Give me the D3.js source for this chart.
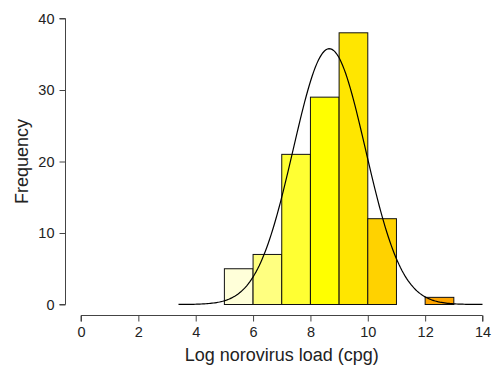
<!DOCTYPE html>
<html>
<head>
<meta charset="utf-8">
<script src="https://d3js.org/d3.v7.min.js"></script>
<style>
  html, body { margin: 0; padding: 0; background: #fff; }
  text { font-family: "Liberation Sans", Arial, sans-serif; fill: #222; }
</style>
</head>
<body>
<div id="chart"></div>
<script>
// histogram bins (log cpg) and counts
const binStarts = [5, 6, 7, 8, 9, 10, 11, 12];
const counts = [5, 7, 21, 29, 38, 12, 0, 1];
const binColors = ["#FFFFD9", "#FFFF80", "#FFFF33", "#FFFF00", "#FFE600", "#FFD200", "#FFBB00", "#FFA500"];
const xTicks = [0, 2, 4, 6, 8, 10, 12, 14];
const yTicks = [0, 10, 20, 30, 40];

// fitted normal curve
const fitMean = 8.66;
const fitSd = 1.26;
const curveFrom = 3.4, curveTo = 14;

const width = 493, height = 367;
const svg = d3.select("#chart").append("svg")
    .attr("width", width)
    .attr("height", height);

const x = d3.scaleLinear().domain([0, 14]).range([81, 482.5]);
const y = d3.scaleLinear().domain([0, 40]).range([304.5, 18.5]);

// bars
const n = d3.sum(counts);
svg.append("g").selectAll("rect")
    .data(binStarts.map((b, i) => ({ b: b, c: counts[i], col: binColors[i] })).filter(d => d.c > 0))
    .enter().append("rect")
    .attr("x", d => x(d.b))
    .attr("width", d => x(d.b + 1) - x(d.b))
    .attr("y", d => y(d.c))
    .attr("height", d => y(0) - y(d.c))
    .attr("fill", d => d.col)
    .attr("stroke", "#111")
    .attr("stroke-width", 1);

// normal curve scaled to counts (bin width 1)
const pts = d3.range(0, 201).map(i => {
    const xv = curveFrom + (curveTo - curveFrom) * i / 200;
    const dens = Math.exp(-0.5 * Math.pow((xv - fitMean) / fitSd, 2)) / (fitSd * Math.sqrt(2 * Math.PI));
    return [xv, n * dens];
});
svg.append("path")
    .attr("d", d3.line().x(d => x(d[0])).y(d => y(d[1]))(pts))
    .attr("fill", "none")
    .attr("stroke", "#000")
    .attr("stroke-width", 1.2);

// x axis
const xAxis = svg.append("g")
    .attr("transform", "translate(0,315.5)")
    .call(d3.axisBottom(x).tickValues(xTicks).tickSize(6).tickPadding(5).tickFormat(d3.format("d")));
// y axis
const yAxis = svg.append("g")
    .attr("transform", "translate(65.5,0)")
    .call(d3.axisLeft(y).tickValues(yTicks).tickSize(6).tickPadding(5).tickFormat(d3.format("d")));

[xAxis, yAxis].forEach(a => {
    a.select(".domain").attr("stroke", "#444");
    a.selectAll(".tick line").attr("stroke", "#444");
    a.selectAll(".tick text").style("font-size", "14.5px").attr("fill", "#222")
        .style("font-family", "'Liberation Sans', Arial, sans-serif");
});
// R-style axis lines: no end caps beyond first/last ticks
xAxis.select(".domain").attr("d", `M${x(0)},6V0H${x(14)}V6`);
yAxis.select(".domain").attr("d", `M-6,${y(0)}H0V${y(40)}H-6`);

// titles
svg.append("text")
    .attr("x", x(7))
    .attr("y", 361)
    .attr("text-anchor", "middle")
    .style("font-size", "18px")
    .text("Log norovirus load (cpg)");

svg.append("text")
    .attr("transform", `translate(28,${(y(0) + y(40)) / 2}) rotate(-90)`)
    .attr("text-anchor", "middle")
    .style("font-size", "18px")
    .text("Frequency");
</script>
</body>
</html>
